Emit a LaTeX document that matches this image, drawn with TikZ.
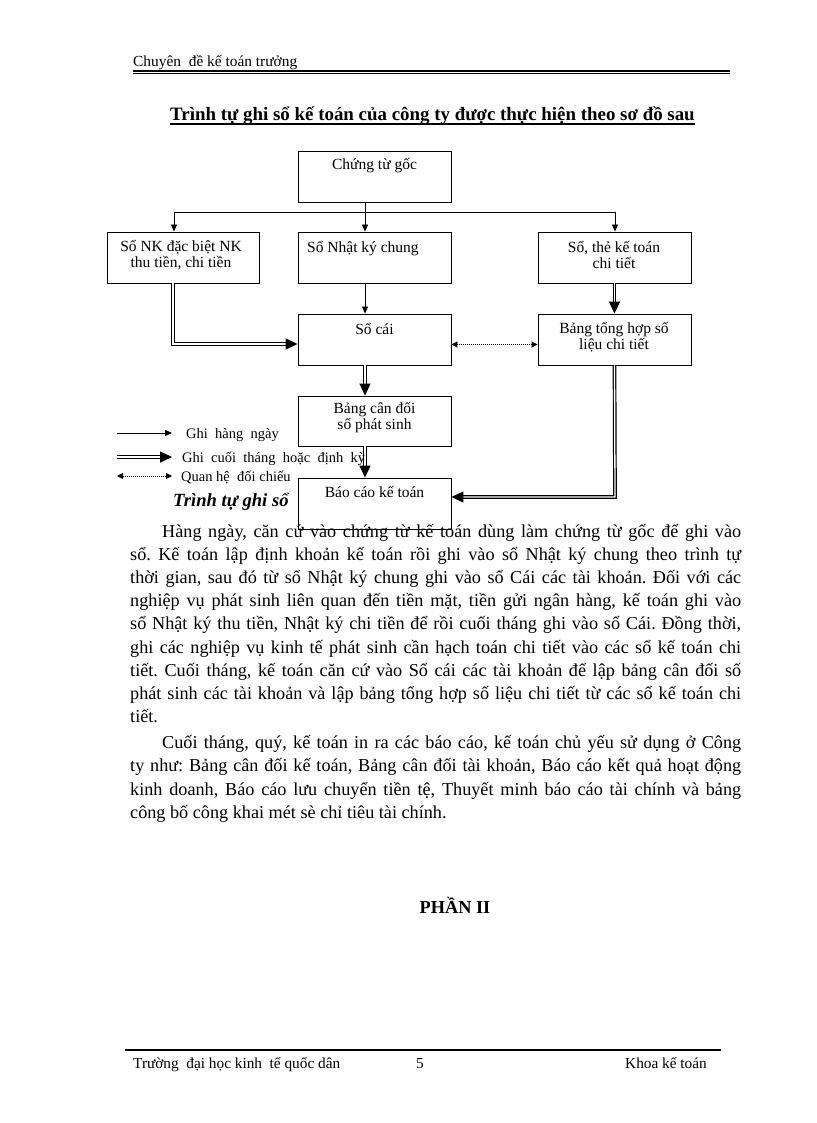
\documentclass[tikz,border=0pt]{standalone}
\usepackage{fontspec}
\setmainfont{Liberation Serif}
\usetikzlibrary{arrows.meta,calc}
\begin{document}
\frenchspacing
\begin{tikzpicture}[x=1pt,y=-1pt,
  box/.style={draw, line width=0.9pt, minimum width=153pt, minimum height=51pt, inner sep=0pt},
  lbl/.style={font=\fontsize{15.5}{16}\selectfont, align=center, inner sep=0pt},
  leg/.style={font=\fontsize{14.5}{16}\selectfont, inner sep=0pt, anchor=base west},
  one/.style={line width=0.8pt, -{Triangle[length=7pt,width=6pt]}},
  dbl/.style={line width=1.2pt, double, double distance=1.3pt, -{Triangle[length=12pt,width=11pt]}},
  dots/.style={line width=0.9pt, dash pattern=on 1pt off 1pt, {Triangle[length=6pt,width=6pt]}-{Triangle[length=6pt,width=6pt]}},
  body/.style={font=\fontsize{18.2}{20}\selectfont, inner sep=0pt, anchor=base west},
]
\useasboundingbox (0,0) rectangle (816,1123);

% header
\node[font=\fontsize{15.4}{16}\selectfont, inner sep=0pt, anchor=base west] (hdr) at (133,67) {Chuyên\ \ đề kế toán trưởng};
\coordinate (h1) at (133,71);
\coordinate (h2) at (730,71);
\draw[line width=1.6pt] (h1) -- (h2);
\draw[line width=0.7pt] ([yshift=-2.8pt]h1) -- ([yshift=-2.8pt]h2);

% title
\node[font=\fontsize{18.9}{20}\selectfont\bfseries, inner sep=0pt, anchor=base] (title) at (432.5,121) {Trình tự ghi sổ kế toán của công ty được thực hiện theo sơ đồ sau};
\draw[line width=1.2pt] ([yshift=-3pt]title.base west) -- ([yshift=-3pt]title.base east);

% boxes
\node[box] (goc) at (374.5,176.5) {};
\node[lbl, anchor=base] (gocT) at (374.5,170) {Chứng từ gốc};

\node[box, minimum width=152pt] (nk) at (183,257.5) {};
\node[lbl] (nkT) at (181,255) {Sổ NK đặc biệt NK\\thu tiền, chi tiền};

\node[box] (nkc) at (374.5,257.5) {};
\node[lbl, anchor=base west] (nkcT) at (307,252) {Sổ Nhật ký chung};

\node[box] (ct) at (614.5,257.5) {};
\node[lbl] (ctT) at (614,255) {Sổ, thẻ kế toán\\chi tiết};

\node[box] (cai) at (374.5,339.5) {};
\node[lbl, anchor=base] (caiT) at (374.5,334) {Sổ cái};

\node[box] (th) at (614.5,339.5) {};
\node[lbl] (thT) at (614,337) {Bảng tổng hợp số\\liệu chi tiết};

\node[box, minimum height=50pt] (cdps) at (374.5,421) {};
\node[lbl] (cdpsT) at (374.5,418) {Bảng cân đối\\số phát sinh};

\node[box] (bc) at (374.5,503.5) {};
\node[lbl, anchor=base] (bcT) at (374.5,497) {Báo cáo kế toán};

% connectors
\coordinate (bl) at (174,212);
\coordinate (brr) at (615,212);
\draw[line width=0.8pt] (bl) -- (brr);
\draw[one] (bl) -- (bl |- nk.north);
\draw[one] (brr) -- (brr |- ct.north);
\draw[one] ([xshift=-9.5pt]goc.south) -- ([xshift=-9.5pt]nkc.north);
\draw[one] ([xshift=-9.5pt]nkc.south) -- ([xshift=-9.5pt]cai.north);

\coordinate (k1) at (173,344);
\draw[dbl] (nk.south -| k1) -- (k1) -- (k1 -| cai.west);
\draw[dbl] ([xshift=-9.5pt]cai.south) -- ([xshift=-9.5pt]cdps.north);
\draw[dbl] (ct.south) -- (th.north);
\draw[dots] ([yshift=-5pt]cai.east) -- ([yshift=-5pt]th.west);
\coordinate (k2) at (615,497);
\draw[dbl] (th.south) -- (k2) -- (k2 -| bc.east);
\draw[dbl] ([xshift=-9.5pt]cdps.south) -- ([xshift=-9.5pt]bc.north);

% legend
\coordinate (l1a) at (117,433); \coordinate (l1b) at (172,433);
\coordinate (l2a) at (117,457); \coordinate (l2b) at (172,457);
\coordinate (l3a) at (117,476); \coordinate (l3b) at (172,476);
\draw[one] (l1a) -- (l1b);
\draw[dbl] (l2a) -- (l2b);
\draw[dots] (l3a) -- (l3b);
\node[leg] (g1) at (186,438) {Ghi\ \ hàng\ \ ngày};
\node[leg] (g2) at (182,462) {Ghi\ \ cuối\ \ tháng\ \ hoặc\ \ định\ \ kỳ};
\node[leg] (g3) at (181,481) {Quan\ hệ\ \ đối\ chiếu};
\node[font=\fontsize{18.6}{20}\selectfont\bfseries\itshape, inner sep=0pt, anchor=base west] (tt) at (173,506) {Trình tự ghi sổ};

% body text
\node[body] (p1) at (162,537) {\makebox[579pt][s]{Hàng ngày, căn cứ vào chứng từ kế toán dùng làm chứng từ gốc để ghi vào}};
\node[body] (p2) at (130,560.2) {\makebox[611pt][s]{sổ. Kế toán lập định khoản kế toán rồi ghi vào sổ Nhật ký chung theo trình tự}};
\node[body] (p3) at (130,583.4) {\makebox[611pt][s]{thời gian, sau đó từ sổ Nhật ký chung ghi vào sổ Cái các tài khoản. Đối với các}};
\node[body] (p4) at (130,606.6) {\makebox[611pt][s]{nghiệp vụ phát sinh liên quan đến tiền mặt, tiền gửi ngân hàng, kế toán ghi vào}};
\node[body] (p5) at (130,629.8) {\makebox[611pt][s]{sổ Nhật ký thu tiền, Nhật ký chi tiền để rồi cuối tháng ghi vào sổ Cái. Đồng thời,}};
\node[body] (p6) at (130,653) {\makebox[611pt][s]{ghi các nghiệp vụ kinh tế phát sinh cần hạch toán chi tiết vào các sổ kế toán chi}};
\node[body] (p7) at (130,676.2) {\makebox[611pt][s]{tiết. Cuối tháng, kế toán căn cứ vào Sổ cái các tài khoản để lập bảng cân đối số}};
\node[body] (p8) at (130,699.4) {\makebox[611pt][s]{phát sinh các tài khoản và lập bảng tổng hợp số liệu chi tiết từ các sổ kế toán chi}};
\node[body] (p9) at (130,722.6) {tiết.};

\node[body] (q1) at (162,748) {\makebox[579pt][s]{Cuối tháng, quý, kế toán in ra các báo cáo, kế toán chủ yếu sử dụng ở Công}};
\node[body] (q2) at (130,771.5) {\makebox[611pt][s]{ty như: Bảng cân đối kế toán, Bảng cân đối tài khoản, Báo cáo kết quả hoạt động}};
\node[body] (q3) at (130,795) {\makebox[611pt][s]{kinh doanh, Báo cáo lưu chuyển tiền tệ, Thuyết minh báo cáo tài chính và bảng}};
\node[body] (q4) at (130,818.5) {công bố công khai mét sè chỉ tiêu tài chính.};

% part heading
\node[font=\fontsize{18.3}{20}\selectfont\bfseries, inner sep=0pt, anchor=base] (part) at (455,913) {PHẦN II};

% footer
\coordinate (f1) at (125,1050);
\coordinate (f2) at (721,1050);
\draw[line width=1.2pt] (f1) -- (f2);
\node[font=\fontsize{15.3}{16}\selectfont, inner sep=0pt, anchor=base west] (ft1) at (133,1068) {Trường\ \ đại học kinh\ \ tế quốc dân};
\node[font=\fontsize{15.3}{16}\selectfont, inner sep=0pt, anchor=base] (ft2) at (420,1068) {5};
\node[font=\fontsize{15.3}{16}\selectfont, inner sep=0pt, anchor=base east] (ft3) at (707,1068) {Khoa kế toán};
\end{tikzpicture}
\end{document}
